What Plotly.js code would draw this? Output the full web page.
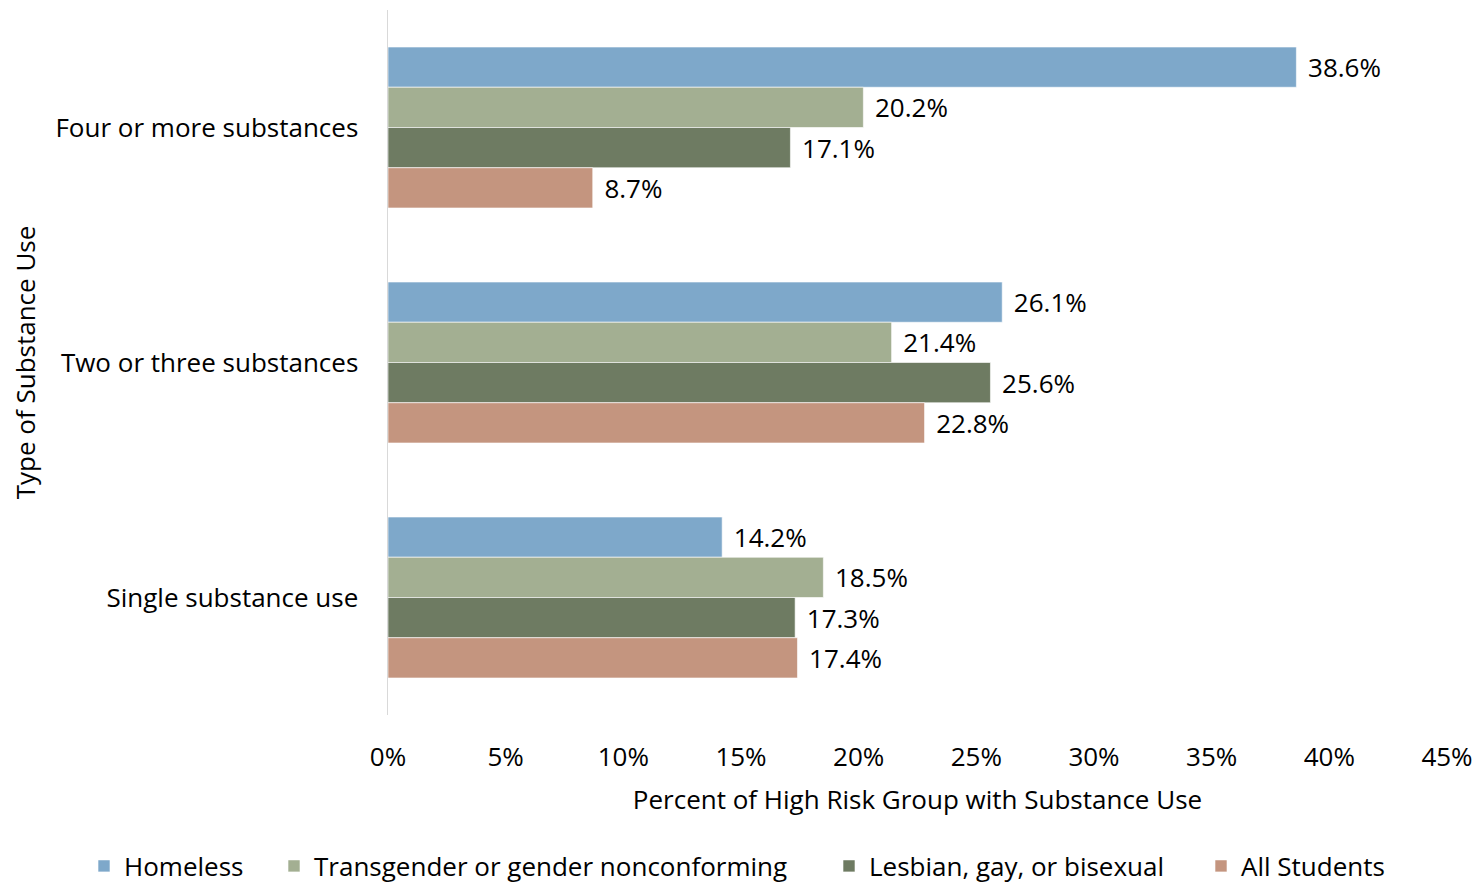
<!DOCTYPE html>
<html>
<head>
<meta charset="utf-8">
<script src="https://cdn.plot.ly/plotly-3.0.1.min.js"></script>
<style>html,body{margin:0;padding:0;background:#fff;}#chart{width:1480px;height:886px;}</style>
</head>
<body>
<div id="chart"></div>
<script>
const categories = ["Four or more substances", "Two or three substances", "Single substance use"];
const seriesNames = ["Homeless", "Transgender or gender nonconforming", "Lesbian, gay, or bisexual", "All Students"];
const homeless = [38.6, 26.1, 14.2];
const transgender = [20.2, 21.4, 18.5];
const lgb = [17.1, 25.6, 17.3];
const allStudents = [8.7, 22.8, 17.4];
const tickValues = [0, 5, 10, 15, 20, 25, 30, 35, 40, 45];
const tickLabels = ["0%", "5%", "10%", "15%", "20%", "25%", "30%", "35%", "40%", "45%"];

const colors = ["#7EA8CA", "#A3AF92", "#6E7B62", "#C4957F"];
const values = [homeless, transgender, lgb, allStudents];
const FONT = "'Open Sans', sans-serif";
const FS = 26;
// legend box left edges (px) for each series entry
const legendLeft = [84, 274, 829, 1201];
const legendIds = ["legend", "legend2", "legend3", "legend4"];

const traces = values.map((v, i) => ({
  type: "bar",
  orientation: "h",
  name: seriesNames[i],
  legend: legendIds[i],
  y: categories,
  x: v,
  text: v.map(d => "\u2009\u2009" + d.toFixed(1) + "%"),
  textposition: "outside",
  textfont: {family: FONT, size: FS, color: "#000"},
  cliponaxis: false,
  marker: {color: colors[i], line: {color: "rgba(255,255,255,0.6)", width: 1}},
  hoverinfo: "x+name"
}));

const layout = {
  width: 1480, height: 886,
  margin: {l: 388, r: 33, t: 10, b: 171},
  paper_bgcolor: "#fff", plot_bgcolor: "#fff",
  font: {family: FONT, size: FS, color: "#000"},
  barmode: "group",
  bargap: 0.315,
  bargroupgap: 0,
  showlegend: true,
  xaxis: {
    range: [0, 45], tickvals: tickValues, ticktext: tickLabels, automargin: false,
    showgrid: false, zeroline: false, showline: false, ticks: "",
    ticklabelstandoff: 24,
    tickfont: {family: FONT, size: FS, color: "#000"},
    title: {text: "Percent of High Risk Group with Substance Use", font: {family: FONT, size: FS, color: "#000"}, standoff: 17}
  },
  yaxis: {
    type: "category", autorange: "reversed", automargin: false,
    showgrid: false, zeroline: false, showline: true, linecolor: "#D9D9D9", linewidth: 1.5,
    ticks: "", ticklabelstandoff: 23,
    tickfont: {family: FONT, size: FS, color: "#000"},
    title: {text: "Type of Substance Use", font: {family: FONT, size: FS, color: "#000"}, standoff: 12}
  }
};

legendIds.forEach((id, i) => {
  layout[id] = {
    orientation: "h",
    xref: "container", x: legendLeft[i] / 1480, xanchor: "left",
    yref: "container", y: 20 / 886, yanchor: "middle",
    bgcolor: "rgba(0,0,0,0)",
    font: {family: FONT, size: FS, color: "#000"}
  };
});

Plotly.newPlot("chart", traces, layout, {displayModeBar: false, staticPlot: true});
</script>
</body>
</html>
